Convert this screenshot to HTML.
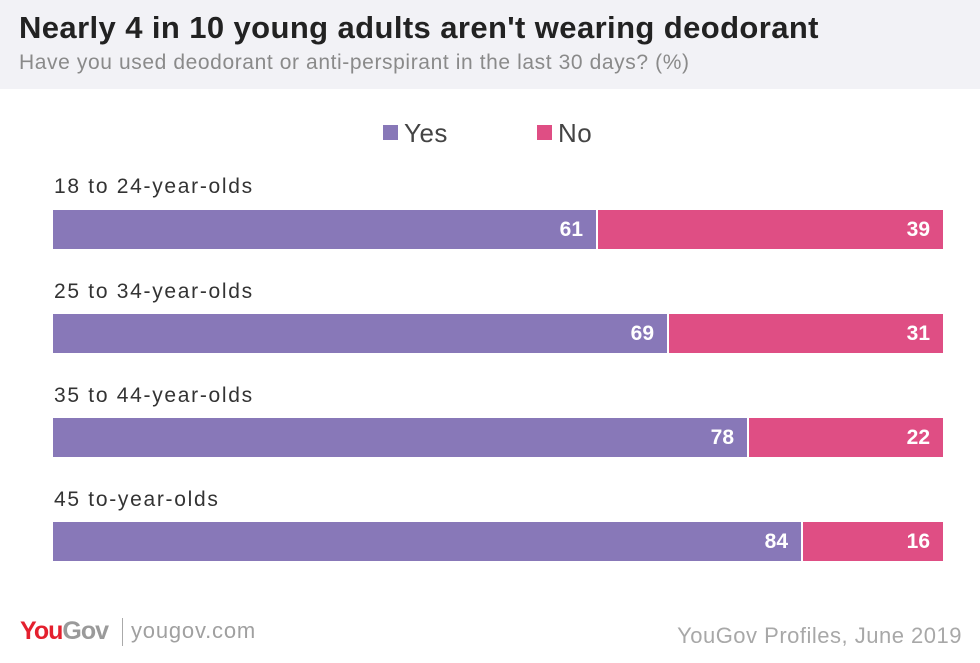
<!DOCTYPE html>
<html><head><style>
body{margin:0;width:980px;height:663px;background:#fff;font-family:"Liberation Sans",sans-serif;position:relative;overflow:hidden}
.hdr{position:absolute;left:0;top:0;width:980px;height:89px;background:#f2f2f6}
.t{position:absolute;left:19px;top:10px;font-size:31px;font-weight:bold;color:#222;letter-spacing:0.4px}
.s{position:absolute;left:19px;top:51px;font-size:21px;color:#8a8a8a;letter-spacing:0.6px}
.lab{position:absolute;left:54px;font-size:21px;color:#333;letter-spacing:1.7px}
.bar{position:absolute;left:53px;width:890px;height:39px}
.y,.n{position:absolute;top:0;height:39px;color:#fff;font-weight:bold;font-size:21px;line-height:39px;text-align:right;box-sizing:border-box;padding-right:13px}
.y{left:0;background:#8878b8}
.n{background:#df4e84;border-left:2px solid #fff}
.leg{position:absolute;top:118px;font-size:26px;color:#444;letter-spacing:0.5px}
.sq{display:inline-block;width:15px;height:15px;margin-right:6px;vertical-align:2px}
</style></head><body>
<div class="hdr"></div>
<div class="t">Nearly 4 in 10 young adults aren't wearing deodorant</div>
<div class="s">Have you used deodorant or anti-perspirant in the last 30 days? (%)</div>
<div class="leg" style="left:383px"><span class="sq" style="background:#8878b8"></span>Yes</div>
<div class="leg" style="left:537px"><span class="sq" style="background:#df4e84"></span>No</div>

<div class="lab" style="top:175px">18 to 24-year-olds</div>
<div class="bar" style="top:210px"><div class="y" style="width:543px">61</div><div class="n" style="left:543px;width:347px">39</div></div>
<div class="lab" style="top:280px">25 to 34-year-olds</div>
<div class="bar" style="top:314px"><div class="y" style="width:614px">69</div><div class="n" style="left:614px;width:276px">31</div></div>
<div class="lab" style="top:384px">35 to 44-year-olds</div>
<div class="bar" style="top:418px"><div class="y" style="width:694px">78</div><div class="n" style="left:694px;width:196px">22</div></div>
<div class="lab" style="top:488px">45 to-year-olds</div>
<div class="bar" style="top:522px"><div class="y" style="width:748px">84</div><div class="n" style="left:748px;width:142px">16</div></div>

<div style="position:absolute;left:20px;top:617px;font-size:25px;font-weight:bold;letter-spacing:-1px"><span style="color:#e4202e">You</span><span style="color:#9a9a9a">Gov</span></div>
<div style="position:absolute;left:122px;top:618px;width:1px;height:28px;background:#aaa"></div>
<div style="position:absolute;left:131px;top:618px;font-size:22px;color:#a0a0a0;letter-spacing:0.8px">yougov.com</div>
<div style="position:absolute;right:18px;top:623px;font-size:22px;color:#a8a8a8;letter-spacing:0.5px">YouGov Profiles, June 2019</div>
</body></html>
